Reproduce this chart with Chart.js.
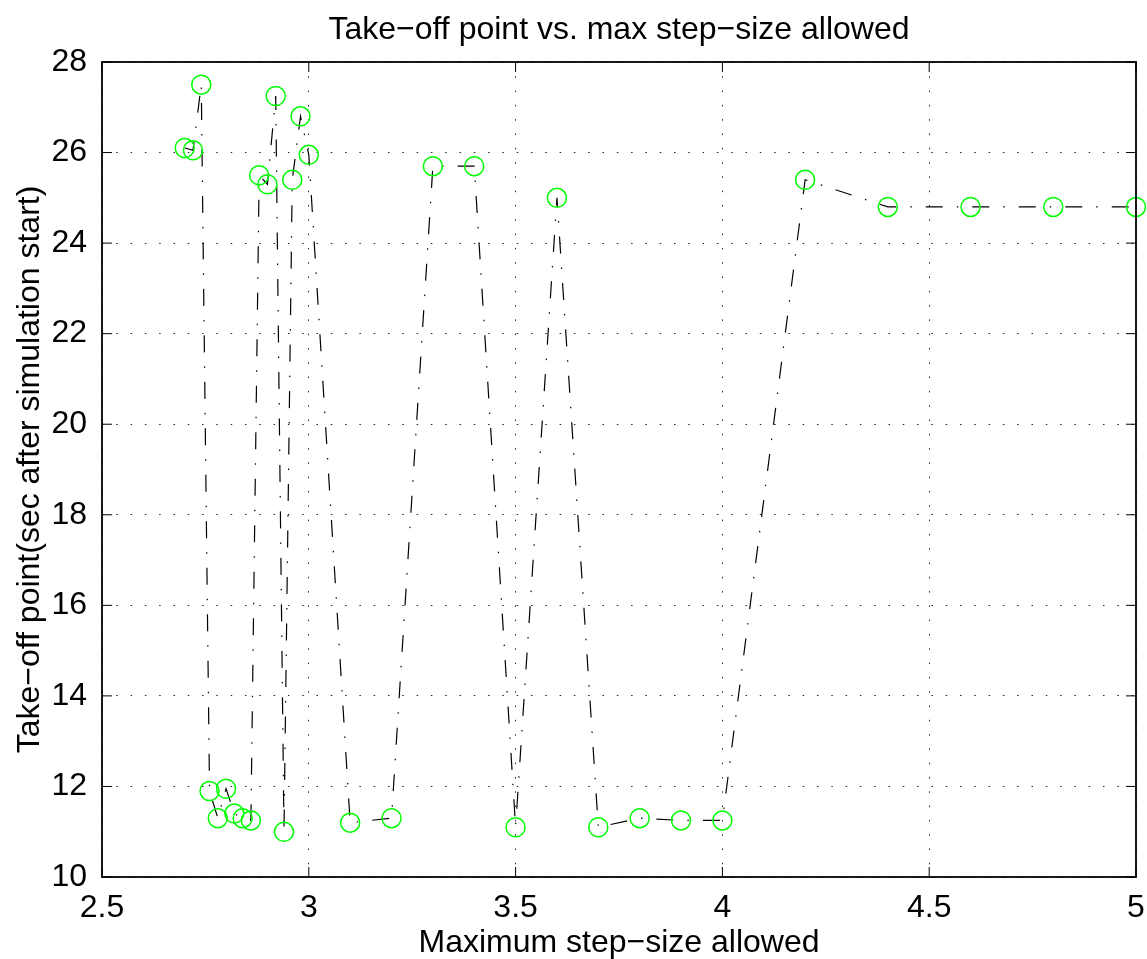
<!DOCTYPE html>
<html>
<head>
<meta charset="utf-8">
<script src="https://cdn.jsdelivr.net/npm/chart.js@4.4.1/dist/chart.umd.min.js"></script>
<style>
  html, body { margin: 0; padding: 0; background: #fff; }
  #wrap { width: 1147px; height: 959px; }
</style>
</head>
<body>
<div id="wrap"><canvas id="chart" width="1147" height="959"></canvas></div>
<script>
// max step-size allowed (x) and take-off point in sec (y)
const stepSizes = [2.70, 2.72, 2.74, 2.76, 2.78, 2.80, 2.82, 2.84, 2.86, 2.88, 2.90, 2.92, 2.94, 2.96, 2.98, 3.00,
  3.1, 3.2, 3.3, 3.4, 3.5, 3.6, 3.7, 3.8, 3.9, 4.0,
  4.2, 4.4, 4.6, 4.8, 5.0];
const takeOff = [26.1, 26.05, 27.5, 11.9, 11.3, 11.95, 11.4, 11.3, 11.25, 25.5, 25.3, 27.25, 11.0, 25.4, 26.8, 25.95,
  11.2, 11.3, 25.7, 25.7, 11.1, 25.0, 11.1, 11.3, 11.25, 11.25,
  25.4, 24.8, 24.8, 24.8, 24.8];
const xTicks = [2.5, 3, 3.5, 4, 4.5, 5];
const yTicks = [10, 12, 14, 16, 18, 20, 22, 24, 26, 28];

const FONT = "'Liberation Sans', Arial, Helvetica, sans-serif";

// matlab style box with inward tick marks
const frameAndTicks = {
  id: 'frameAndTicks',
  afterDatasetsDraw(chart) {
    const { ctx, chartArea: a, scales: { x, y } } = chart;
    ctx.save();
    ctx.strokeStyle = '#000';
    ctx.lineWidth = 1;
    ctx.beginPath();
    x.ticks.forEach(t => {
      const px = x.getPixelForValue(t.value);
      ctx.moveTo(px, a.bottom); ctx.lineTo(px, a.bottom - 10);
      ctx.moveTo(px, a.top); ctx.lineTo(px, a.top + 10);
    });
    y.ticks.forEach(t => {
      const py = y.getPixelForValue(t.value);
      ctx.moveTo(a.left, py); ctx.lineTo(a.left + 10, py);
      ctx.moveTo(a.right, py); ctx.lineTo(a.right - 10, py);
    });
    ctx.stroke();
    ctx.lineWidth = 1.8;
    ctx.strokeRect(a.left, a.top, a.right - a.left, a.bottom - a.top);
    ctx.restore();
  }
};

const ctx = document.getElementById('chart').getContext('2d');
new Chart(ctx, {
  type: 'line',
  data: {
    datasets: [{
      data: stepSizes.map((v, i) => ({ x: v, y: takeOff[i] })),
      borderColor: '#000',
      borderWidth: 1.2,
      borderDash: [17, 14, 1.5, 14],
      tension: 0,
      pointStyle: 'circle',
      pointRadius: 9.5,
      pointBorderWidth: 1.5,
      pointBorderColor: '#00ff00',
      pointBackgroundColor: 'rgba(0,0,0,0)',
      clip: false
    }]
  },
  options: {
    responsive: false,
    animation: false,
    devicePixelRatio: 1,
    layout: { padding: { left: 0, right: 10, top: 0, bottom: 0 } },
    plugins: {
      legend: { display: false },
      tooltip: { enabled: false },
      title: {
        display: true,
        fullSize: false,
        text: 'Take−off point vs. max step−size allowed',
        color: '#000',
        font: { family: FONT, size: 32, weight: 'normal', lineHeight: 1.2 },
        padding: { top: 10.8, bottom: 12.8 }
      }
    },
    scales: {
      x: {
        type: 'linear',
        min: 2.5,
        max: 5,
        afterBuildTicks: s => { s.ticks = xTicks.map(v => ({ value: v })); },
        afterFit: s => { s.height = 82; s.paddingLeft = 0; s.paddingRight = 0; },
        ticks: {
          color: '#000',
          font: { family: FONT, size: 32 },
          padding: 12,
          maxRotation: 0,
          autoSkip: false,
          callback: v => String(v)
        },
        grid: { color: 'rgba(0,0,0,0.85)', lineWidth: 1, drawTicks: false },
        border: { display: false, dash: [1.5, 12.8] },
        title: {
          display: true,
          text: 'Maximum step−size allowed',
          color: '#000',
          font: { family: FONT, size: 32, lineHeight: 1 },
          padding: { top: 0, bottom: 0 }
        }
      },
      y: {
        type: 'linear',
        min: 10,
        max: 28,
        afterBuildTicks: s => { s.ticks = yTicks.map(v => ({ value: v })); },
        afterFit: s => { s.width = 102; },
        ticks: {
          color: '#000',
          font: { family: FONT, size: 32 },
          padding: 15,
          autoSkip: false,
          callback: v => String(v)
        },
        grid: { color: 'rgba(0,0,0,0.85)', lineWidth: 1, drawTicks: false },
        border: { display: false, dash: [1.5, 12.8] },
        title: {
          display: true,
          text: 'Take−off point(sec after simulation start)',
          color: '#000',
          font: { family: FONT, size: 32, lineHeight: 1.2 },
          padding: { top: 10.8, bottom: 0 }
        }
      }
    }
  },
  plugins: [frameAndTicks]
});
</script>
</body>
</html>
